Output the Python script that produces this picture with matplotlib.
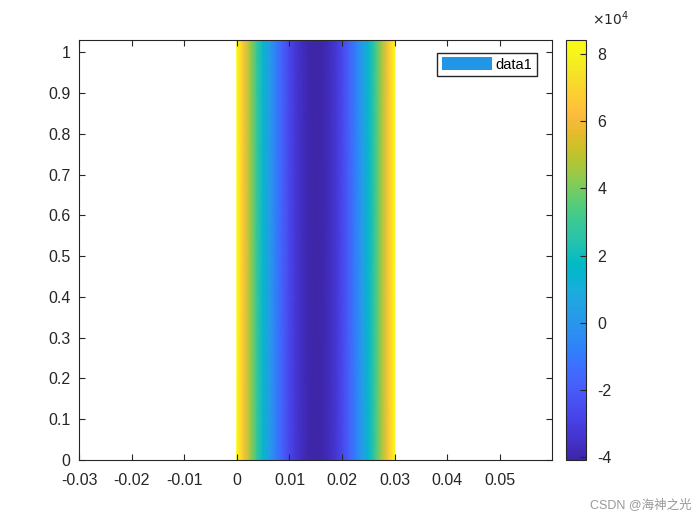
import numpy as np
import matplotlib.pyplot as plt
from matplotlib.colors import LinearSegmentedColormap
from matplotlib.patches import Patch

# profile across the strip (value / 1e4)
x_pos = [0, 0.00125, 0.0025, 0.00375, 0.005, 0.00625, 0.0075, 0.00875,
         0.01, 0.01125, 0.0125, 0.01375, 0.015, 0.01625, 0.0175, 0.01875,
         0.02, 0.02125, 0.0225, 0.02375, 0.025, 0.02625, 0.0275, 0.02875, 0.03]
values = [8.42, 6.42, 4.60, 2.95, 1.47, 0.17, -0.96, -1.92,
          -2.70, -3.31, -3.74, -4.00, -4.09, -4.00, -3.74, -3.31,
          -2.70, -1.92, -0.96, 0.17, 1.47, 2.95, 4.60, 6.42, 8.42]
y_pos = [0, 1.03]
xticks = [-0.03, -0.02, -0.01, 0, 0.01, 0.02, 0.03, 0.04, 0.05]
yticks = [0, 0.1, 0.2, 0.3, 0.4, 0.5, 0.6, 0.7, 0.8, 0.9, 1]
cticks = [-4, -2, 0, 2, 4, 6, 8]

parula_pts = [
    (0.2422, 0.1504, 0.6603), (0.2578, 0.1818, 0.7511), (0.2706, 0.2147, 0.8364),
    (0.2783, 0.2559, 0.8991), (0.2813, 0.3006, 0.9414), (0.2795, 0.3447, 0.9717),
    (0.2699, 0.3892, 0.9906), (0.2440, 0.4358, 0.9988), (0.1963, 0.4847, 0.9892),
    (0.1786, 0.5289, 0.9682), (0.1687, 0.5703, 0.9359), (0.1460, 0.6091, 0.9079),
    (0.1248, 0.6459, 0.8883), (0.0952, 0.6798, 0.8598), (0.0297, 0.7082, 0.8163),
    (0.0067, 0.7312, 0.7660), (0.0964, 0.7500, 0.7120), (0.1717, 0.7670, 0.6554),
    (0.2161, 0.7843, 0.5923), (0.2906, 0.7973, 0.5188), (0.3909, 0.8029, 0.4354),
    (0.5044, 0.7993, 0.3480), (0.6174, 0.7876, 0.2612), (0.7242, 0.7698, 0.1910),
    (0.8203, 0.7498, 0.1535), (0.9035, 0.7330, 0.1774), (0.9728, 0.7298, 0.2394),
    (0.9970, 0.7659, 0.2199), (0.9892, 0.8136, 0.1885), (0.9676, 0.8639, 0.1643),
    (0.9597, 0.9135, 0.1423), (0.9691, 0.9606, 0.1060), (0.9769, 0.9839, 0.0805)]
parula = LinearSegmentedColormap.from_list('parula', parula_pts)

plt.rcParams['font.family'] = ['Liberation Sans', 'Noto Sans CJK SC', 'DejaVu Sans']
plt.rcParams['font.size'] = 11
plt.rcParams['axes.unicode_minus'] = False
dark = (0.15, 0.15, 0.15)

fig = plt.figure(figsize=(7, 5.17), dpi=100)
ax = fig.add_axes([0.1129, 0.1103, 0.6757, 0.8123])
cax = fig.add_axes([0.8086, 0.1103, 0.0286, 0.8123])

X, Y = np.meshgrid(x_pos, y_pos)
Z = np.vstack([values, values])
m = ax.pcolormesh(X, Y, Z, cmap=parula, shading='gouraud', vmin=-4.09, vmax=8.42)

ax.set_xlim(-0.03, 0.0599)
ax.set_ylim(0, 1.03)
ax.set_xticks(xticks)
ax.set_xticklabels([f'{t:g}' for t in xticks])
ax.set_yticks(yticks)
ax.set_yticklabels([f'{t:g}' for t in yticks])
ax.tick_params(direction='in', top=True, right=True, colors=dark, length=4, labelsize=11.5)
ax.tick_params(axis='x', pad=9.5)
ax.tick_params(axis='y', pad=6)
for s in ax.spines.values():
    s.set_color(dark)
    s.set_linewidth(0.8)

ax.legend(handles=[Patch(facecolor=(0.13, 0.59, 0.90), label='data1')],
          loc='upper right', bbox_to_anchor=(0.968, 0.969), borderaxespad=0,
          fancybox=False, edgecolor=dark, framealpha=1, handlelength=3.42,
          handleheight=1.0, handletextpad=0.28, borderpad=0.3, fontsize=10.5)

cb = fig.colorbar(m, cax=cax, ticks=cticks)
cb.ax.tick_params(direction='in', colors=dark, length=4, labelsize=11.5, pad=8)
cb.outline.set_edgecolor(dark)
cb.outline.set_linewidth(0.8)
fig.text(0.846, 0.946, r'$\times10^4$', fontsize=10, color=dark, ha='left', va='bottom')

fig.text(0.988, 0.012, 'CSDN @海神之光', fontsize=9, color=(0.6, 0.6, 0.6),
         ha='right', va='bottom')

fig.savefig('out.png', dpi=100)
